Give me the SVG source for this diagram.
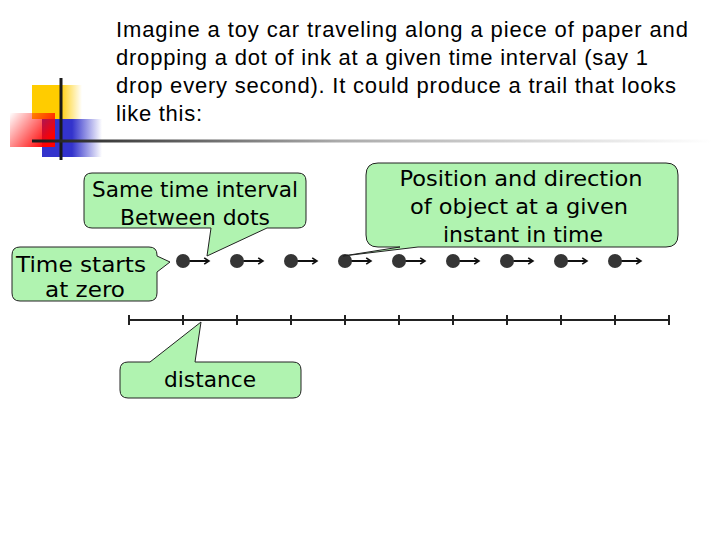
<svg xmlns="http://www.w3.org/2000/svg" width="720" height="540" viewBox="0 0 720 540">
<defs>
<style>
.title{font-family:"Liberation Sans",Arial,sans-serif;font-size:22px;fill:#000}
.ct{font-family:"DejaVu Sans","Noto Sans",sans-serif;font-size:21px;fill:#000;text-anchor:middle}
.call{fill:#b0f3b0;stroke:#222;stroke-width:1}
.dot{fill:#353535}
.arr{stroke:#111;stroke-width:2;fill:none}
.axis{stroke:#222;stroke-width:2;fill:none}
</style>
<linearGradient id="yel" x1="0" x2="1" y1="0" y2="0">
<stop offset="0" stop-color="#ffcc00"/><stop offset="0.55" stop-color="#ffcc00"/><stop offset="1" stop-color="#ffcc00" stop-opacity="0"/>
</linearGradient>
<linearGradient id="red" x1="0" x2="1" y1="0" y2="0.6">
<stop offset="0" stop-color="#ff0000" stop-opacity="0"/><stop offset="1" stop-color="#ff0000"/>
</linearGradient>
<linearGradient id="blu" x1="0" x2="1" y1="0" y2="0">
<stop offset="0" stop-color="#3333cc"/><stop offset="0.5" stop-color="#3333cc"/><stop offset="1" stop-color="#3333cc" stop-opacity="0"/>
</linearGradient>
<linearGradient id="rule" x1="0" x2="1" y1="0" y2="0">
<stop offset="0" stop-color="#1a1a1a"/><stop offset="0.45" stop-color="#aaaaaa"/><stop offset="1" stop-color="#ffffff"/>
</linearGradient>
<marker id="ah" viewBox="0 0 10 10" refX="8" refY="5" markerWidth="4" markerHeight="4" orient="auto" markerUnits="strokeWidth">
<path d="M2,1 L8,5 L2,9" fill="none" stroke="#111" stroke-width="2"/>
</marker>
</defs>
<rect width="720" height="540" fill="#fff"/>
<g id="decor">
<rect x="32" y="85" width="50" height="34" fill="url(#yel)"/>
<rect x="42" y="119" width="60" height="38" fill="url(#blu)"/>
<rect x="10" y="113" width="45" height="34" fill="url(#red)"/>
<line x1="61" y1="78" x2="61" y2="160" stroke="#1a1a1a" stroke-width="3"/>
<rect x="32" y="139.5" width="680" height="3" fill="url(#rule)"/>
</g>
<g id="title">
<text class="title" x="116" y="37" textLength="572" lengthAdjust="spacing">Imagine a toy car traveling along a piece of paper and</text>
<text class="title" x="116" y="65" textLength="532" lengthAdjust="spacing">dropping a dot of ink at a given time interval (say 1</text>
<text class="title" x="116" y="93" textLength="560" lengthAdjust="spacing">drop every second). It could produce a trail that looks</text>
<text class="title" x="116" y="121" textLength="86" lengthAdjust="spacing">like this:</text>
</g>
<g id="connectors">
<g id="axis">
<line class="axis" x1="129" y1="320" x2="669" y2="320"/>
<path class="axis" d="M129,315V325M183,315V325M237,315V325M291,315V325M345,315V325M399,315V325M453,315V325M507,315V325M561,315V325M615,315V325M669,315V325"/>
</g>
<g id="arrows">
<line class="arr" x1="183" y1="261" x2="209" y2="261" marker-end="url(#ah)"/>
<line class="arr" x1="237" y1="261" x2="263" y2="261" marker-end="url(#ah)"/>
<line class="arr" x1="291" y1="261" x2="317" y2="261" marker-end="url(#ah)"/>
<line class="arr" x1="345" y1="261" x2="371" y2="261" marker-end="url(#ah)"/>
<line class="arr" x1="399" y1="261" x2="425" y2="261" marker-end="url(#ah)"/>
<line class="arr" x1="453" y1="261" x2="479" y2="261" marker-end="url(#ah)"/>
<line class="arr" x1="507" y1="261" x2="533" y2="261" marker-end="url(#ah)"/>
<line class="arr" x1="561" y1="261" x2="587" y2="261" marker-end="url(#ah)"/>
<line class="arr" x1="615" y1="261" x2="641" y2="261" marker-end="url(#ah)"/>
</g>
</g>
<g id="dots">
<circle class="dot" cx="183" cy="261" r="7"/>
<circle class="dot" cx="237" cy="261" r="7"/>
<circle class="dot" cx="291" cy="261" r="7"/>
<circle class="dot" cx="345" cy="261" r="7"/>
<circle class="dot" cx="399" cy="261" r="7"/>
<circle class="dot" cx="453" cy="261" r="7"/>
<circle class="dot" cx="507" cy="261" r="7"/>
<circle class="dot" cx="561" cy="261" r="7"/>
<circle class="dot" cx="615" cy="261" r="7"/>
</g>
<g id="callout-interval">
<path class="call" d="M92,173 H298 Q306,173 306,181 V220 Q306,228 298,228 H267 L207,256 L211,228 H92 Q84,228 84,220 V181 Q84,173 92,173 Z"/>
<text class="ct" x="195" y="197" textLength="206" lengthAdjust="spacingAndGlyphs">Same time interval</text>
<text class="ct" x="195" y="225" textLength="150" lengthAdjust="spacingAndGlyphs">Between dots</text>
</g>
<g id="callout-start">
<path class="call" d="M20,247 H149 Q157,247 157,255 V256 L170,262 L157,272 V293 Q157,301 149,301 H20 Q12,301 12,293 V255 Q12,247 20,247 Z"/>
<text class="ct" x="81" y="272" textLength="130" lengthAdjust="spacingAndGlyphs">Time starts</text>
<text class="ct" x="85" y="297" textLength="80" lengthAdjust="spacingAndGlyphs">at zero</text>
</g>
<g id="callout-position">
<path class="call" d="M378,163 H666 Q678,163 678,175 V235 Q678,247 666,247 H418 L343,256 L400,247 H378 Q366,247 366,235 V175 Q366,163 378,163 Z"/>
<text class="ct" x="521" y="186" textLength="243" lengthAdjust="spacingAndGlyphs">Position and direction</text>
<text class="ct" x="519" y="214" textLength="218" lengthAdjust="spacingAndGlyphs">of object at a given</text>
<text class="ct" x="523" y="242" textLength="160" lengthAdjust="spacingAndGlyphs">instant in time</text>
</g>
<g id="callout-distance">
<path class="call" d="M128,362 H150 L201,322 L195,362 H293 Q301,362 301,370 V390 Q301,398 293,398 H128 Q120,398 120,390 V370 Q120,362 128,362 Z"/>
<text class="ct" x="210" y="387" textLength="92" lengthAdjust="spacingAndGlyphs">distance</text>
</g>
</svg>
